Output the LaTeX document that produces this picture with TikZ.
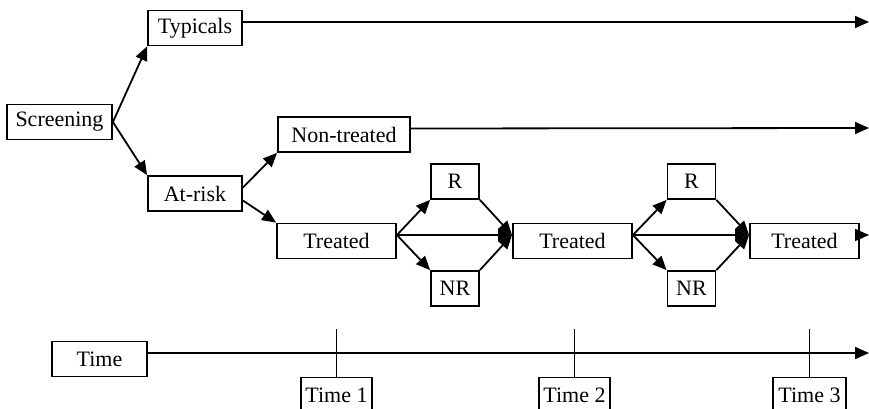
\documentclass[tikz,border=0pt]{standalone}
\usepackage{fontspec}
\setmainfont{Liberation Serif}
\usetikzlibrary{arrows.meta}
\tikzset{
  stage/.style={draw, rectangle, line width=1.8pt, inner sep=0pt,
    minimum height=35pt, font=\fontsize{22}{26}\selectfont},
  flow/.style={line width=1.8pt, -{Triangle[length=14pt,width=12pt]}},
  tick/.style={line width=1.8pt},
}

\begin{document}
\begin{tikzpicture}[x=1pt,y=-1pt]
  \useasboundingbox (0,0) rectangle (869,409);
  % groups
  \node[stage, minimum width=105pt] (screen) at (59.5,122) {Screening};
  \node[stage, minimum width=94pt] (typ) at (195,28) {Typicals};
  \node[stage, minimum width=94pt] (risk) at (195,193.5) {At-risk};
  \node[stage, minimum width=132pt] (nontr) at (344,134.5) {Non-treated};
  % treatment steps
  \node[stage, minimum width=119pt] (tr1) at (336.5,241) {Treated};
  \node[stage, minimum width=48pt] (r1) at (455,181.5) {R};
  \node[stage, minimum width=48pt] (nr1) at (455,288.5) {NR};
  \node[stage, minimum width=119pt] (tr2) at (572.5,241) {Treated};
  \node[stage, minimum width=48pt] (r2) at (691.5,181.5) {R};
  \node[stage, minimum width=48pt] (nr2) at (691.5,288.5) {NR};
  \node[stage, minimum width=109pt] (tr3) at (804.5,241) {Treated};
  % time axis
  \node[stage, minimum width=95pt] (time) at (99.5,359) {Time};
  \node[stage, minimum width=71pt] (t1) at (336.5,395) {Time 1};
  \node[stage, minimum width=71pt] (t2) at (574.5,395) {Time 2};
  \node[stage, minimum width=73pt] (t3) at (809.5,395) {Time 3};

  \coordinate (typend) at (869,22);
  \coordinate (nontrend) at (869,128);
  \coordinate (trend) at (869,235);
  \coordinate (timeend) at (869,353);

  \draw[flow] ([yshift=6pt]typ.east) -- (typend);
  \draw[flow] ([yshift=6pt]nontr.east) -- (nontrend);
  \draw[flow] (screen.east) -- (typ.south west);
  \draw[flow] (screen.east) -- (risk.north west);
  \draw[flow] ([yshift=6pt]risk.east) -- (nontr.south west);
  \draw[flow] ([yshift=-7pt]risk.east) -- (tr1.north west);

  \draw[flow] ([yshift=6pt]tr1.east) -- (r1.south west);
  \draw[flow] ([yshift=6pt]tr1.east) -- (nr1.north west);
  \draw[flow] ([yshift=6pt]tr1.east) -- ([yshift=6pt]tr2.west);
  \draw[flow] (r1.south east) -- ([yshift=6pt]tr2.west);
  \draw[flow] (nr1.north east) -- ([yshift=6pt]tr2.west);

  \draw[flow] ([yshift=6pt]tr2.east) -- (r2.south west);
  \draw[flow] ([yshift=6pt]tr2.east) -- (nr2.north west);
  \draw[flow] ([yshift=6pt]tr2.east) -- ([yshift=6pt]tr3.west);
  \draw[flow] (r2.south east) -- ([yshift=6pt]tr3.west);
  \draw[flow] (nr2.north east) -- ([yshift=6pt]tr3.west);
  \draw[flow] ([yshift=6pt]tr3.east) -- (trend);

  \draw[flow] ([yshift=6pt]time.east) -- (timeend);
  \draw[tick] (t1.north) -- ++(0,-48);
  \draw[tick] (t2.north) -- ++(0,-48);
  \draw[tick] (t3.north) -- ++(0,-48);
\end{tikzpicture}
\end{document}
